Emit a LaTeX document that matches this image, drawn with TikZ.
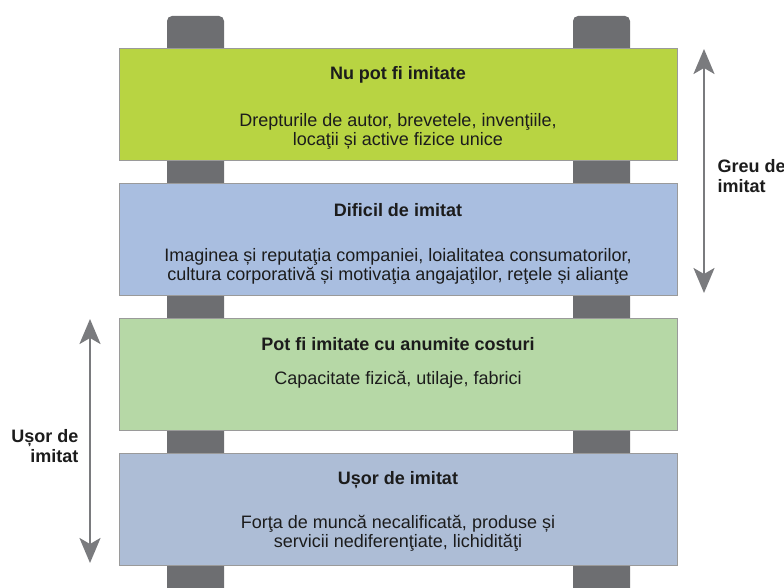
\documentclass[tikz,border=0pt]{standalone}
\usepackage{fontspec}
\setmainfont{Liberation Sans}
\usepackage{tikz}
\usetikzlibrary{positioning}
\usetikzlibrary{shapes,arrows.meta}
\definecolor{postgray}{HTML}{6D6E71}
\definecolor{arrowgray}{HTML}{7A7B7E}
\definecolor{boxline}{HTML}{9A9A9A}
\definecolor{limebox}{HTML}{B8D442}
\definecolor{bluebox}{HTML}{A9BEE0}
\definecolor{greenbox}{HTML}{B6D8A6}
\definecolor{slatebox}{HTML}{ADBDD6}
\definecolor{inkdark}{HTML}{1C1C1C}
\newcommand{\txtsize}{\fontsize{18}{19}\selectfont}

\begin{document}
\begin{tikzpicture}[x=1pt,y=-1pt]
\tikzstyle{post}=[fill=postgray, rounded corners=5pt]
\tikzstyle{block}=[rectangle, minimum width=558pt, minimum height=112pt, draw=boxline, line width=0.9pt]
\tikzstyle{head}=[font=\txtsize\bfseries, text=inkdark]
\tikzstyle{body}=[font=\txtsize, text=inkdark, align=center]
\tikzstyle{side}=[font=\fontsize{18}{20}\selectfont\bfseries, text=inkdark]
\tikzstyle{spanarrow}=[{Stealth[length=25pt,width=21pt,inset=6pt]}-{Stealth[length=25pt,width=21pt,inset=6pt]}, line width=2.5pt, draw=arrowgray, fill=arrowgray]
\useasboundingbox (0,0) rectangle (784,588);
	% the two posts
	\fill[post] (167,16) rectangle (224,600);
	\fill[post] (573,16) rectangle (630,600);

	% the four boards
	\node[block, fill=limebox] (b1) at (398,104) {};
	\node[block, fill=bluebox] (b2) at (398,239) {};
	\node[block, fill=greenbox] (b3) at (398,374.5) {};
	\node[block, fill=slatebox] (b4) at (398,509) {};

	\node[head] (h1) at (398,75) {Nu pot fi imitate};
	\node[body] (d1) at (398,131) {Drepturile de autor, brevetele, invenţiile,\\locaţii și active fizice unice};
	\node[head] (h2) at (398,210) {Dificil de imitat};
	\node[body] (d2) at (398,266) {Imaginea și reputaţia companiei, loialitatea consumatorilor,\\cultura corporativă și motivaţia angajaţilor, reţele și alianţe};
	\node[head] (h3) at (398,344) {Pot fi imitate cu anumite costuri};
	\node[body] (d3) at (398,380) {Capacitate fizică, utilaje, fabrici};
	\node[head] (h4) at (398,480) {Ușor de imitat};
	\node[body] (d4) at (398,533.5) {Forţa de muncă necalificată, produse și\\servicii nediferenţiate, lichidităţi};

	% the two ranges
	\coordinate (gtop) at (704,49);
	\coordinate (gbot) at (704,293);
	\coordinate (utop) at (90,319);
	\coordinate (ubot) at (90,563);
	\draw[spanarrow] (gtop) -- (gbot);
	\draw[spanarrow] (utop) -- (ubot);
	\node[side, anchor=west, align=left] (greu) at (714,176) {Greu de\\imitat};
	\node[side, anchor=east, align=right] (usor) at (82,446.5) {Ușor de\\imitat};
\end{tikzpicture}
\end{document}
